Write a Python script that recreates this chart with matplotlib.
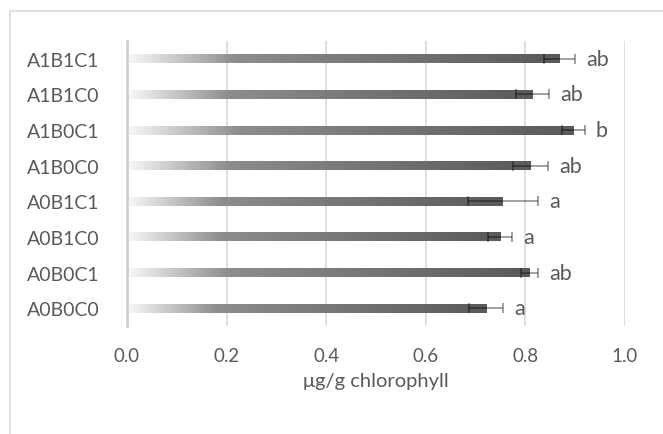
import numpy as np
import matplotlib
matplotlib.use('Agg')
import matplotlib.pyplot as plt
from matplotlib.colors import LinearSegmentedColormap
from matplotlib.patches import Rectangle

plt.rcParams['font.family'] = ['Lato', 'DejaVu Sans']

# ── data (bottom to top, as drawn) ───────────────────────────────────────────
groups  = ['A0B0C0', 'A0B0C1', 'A0B1C0', 'A0B1C1',
           'A1B0C0', 'A1B0C1', 'A1B1C0', 'A1B1C1']
means   = [0.721, 0.809, 0.749, 0.755, 0.811, 0.896, 0.815, 0.869]
errors  = [0.035, 0.017, 0.024, 0.070, 0.035, 0.023, 0.033, 0.031]
letters = ['a', 'ab', 'a', 'a', 'ab', 'b', 'ab', 'ab']
xticks  = [0.0, 0.2, 0.4, 0.6, 0.8, 1.0]

TEXT = '#595959'
GRID = '#d9d9d9'

fig = plt.figure(figsize=(6.63, 4.35), dpi=100)
# light outer chart-area frame (runs off the right / bottom edge)
fig.patches.append(Rectangle((10 / 663, -0.2), 1.5, 1.2 - 12 / 435,
                             transform=fig.transFigure, fill=False,
                             edgecolor=GRID, linewidth=1.2))

ax = fig.add_axes([127 / 663, 1 - 327 / 435, 498 / 663, 285 / 435])

grad = LinearSegmentedColormap.from_list(
    'bar', [(0.0, '#f9f9f9'), (0.25, '#8d8d8d'), (1.0, '#5a5a5a')])
g = np.linspace(0, 1, 256).reshape(1, -1)

h = 0.25
y = np.arange(len(groups))
for yi, v in zip(y, means):
    ax.imshow(g, cmap=grad, aspect='auto', interpolation='bilinear',
              extent=[0, v, yi - h / 2, yi + h / 2], zorder=2)

ax.errorbar(means, y, xerr=errors, fmt='none', ecolor='black', alpha=0.4,
            elinewidth=1.3, capsize=3.7, capthick=1.3, zorder=3)

for yi, v, e, lab in zip(y, means, errors, letters):
    ax.text(v + e + 0.022, yi, lab, ha='left', va='center',
            fontsize=15.5, color=TEXT, zorder=4)

ax.set_xlim(0, 1.0)
ax.set_ylim(-0.5, len(groups) - 0.5)
ax.set_xticks(xticks)
ax.set_xticklabels([f'{t:.1f}' for t in xticks])
ax.set_yticks(y)
ax.set_yticklabels(groups)
ax.tick_params(axis='both', length=0, labelcolor=TEXT)
ax.tick_params(axis='x', pad=15, labelsize=13.5)
ax.tick_params(axis='y', pad=20, labelsize=14)

ax.grid(axis='x', color=GRID, linewidth=1.2, zorder=0)
ax.set_axisbelow(True)
for s in ['top', 'right', 'bottom']:
    ax.spines[s].set_visible(False)
ax.spines['left'].set_color('#d0d0d0')
ax.spines['left'].set_linewidth(2)

ax.set_xlabel('μg/g chlorophyll', fontsize=14.5, color=TEXT, labelpad=6)

fig.savefig('out.png', dpi=100)
